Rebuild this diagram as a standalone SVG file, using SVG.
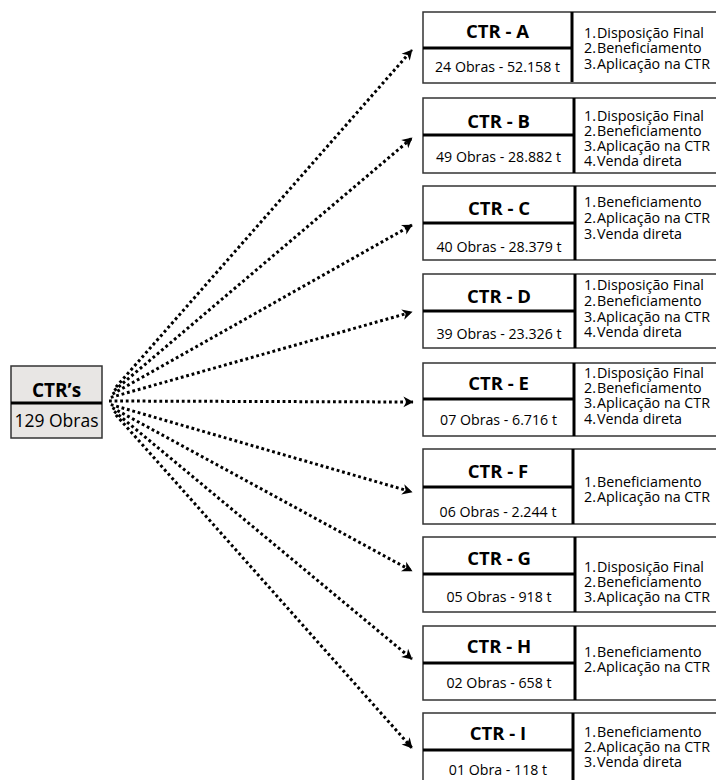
<svg xmlns="http://www.w3.org/2000/svg" width="716" height="780" viewBox="0 0 716 780">
<style>
.box{fill:#fff;stroke:#333;stroke-width:1.5}
.src{fill:#e8e6e4;stroke:#333;stroke-width:1.5}
.div{stroke:#000;stroke-width:3}
.t{font-family:"Open Sans","Liberation Sans",sans-serif;font-weight:bold;font-size:18.5px;text-anchor:middle;fill:#000}
.s{font-family:"Open Sans","Liberation Sans",sans-serif;font-size:14.2px;text-anchor:middle;fill:#000}
.l{font-family:"Open Sans","Liberation Sans",sans-serif;font-size:14.3px;fill:#000}
.c{fill:none;stroke:#000;stroke-width:3;stroke-dasharray:2.8 2.8}
</style>
<defs>
<marker id="ah" markerUnits="userSpaceOnUse" markerWidth="12" markerHeight="12" viewBox="0 0 10 10" refX="9" refY="5" orient="auto">
<path d="M1,0.5 L9.5,5 L1,9.5 L3.5,5 z" fill="#000"/>
</marker>
</defs>
<g id="connectors">
<line class="c" x1="116" y1="387" x2="412" y2="50" marker-end="url(#ah)"/>
<line class="c" x1="114.3" y1="390.5" x2="412" y2="138" marker-end="url(#ah)"/>
<line class="c" x1="112.5" y1="394" x2="412" y2="225" marker-end="url(#ah)"/>
<line class="c" x1="110.8" y1="397.4" x2="412" y2="312" marker-end="url(#ah)"/>
<line class="c" x1="109" y1="401" x2="413" y2="402" marker-end="url(#ah)"/>
<line class="c" x1="110.8" y1="404.6" x2="412" y2="492" marker-end="url(#ah)"/>
<line class="c" x1="112.4" y1="407.8" x2="412" y2="571" marker-end="url(#ah)"/>
<line class="c" x1="114.2" y1="411.3" x2="412" y2="659" marker-end="url(#ah)"/>
<line class="c" x1="115.9" y1="414.9" x2="412" y2="748" marker-end="url(#ah)"/>
</g>
<g id="ctrs">
<rect class="src" x="11" y="366" width="91" height="72"/>
<line class="div" x1="11" y1="403" x2="102" y2="403"/>
<text class="t" x="56.5" y="397" style="font-size:19px">CTR’s</text>
<text class="s" x="56.5" y="427" style="font-size:17.5px">129 Obras</text>
</g>
<g id="ctr-a">
<rect class="box" x="423" y="12" width="300" height="71"/>
<line class="div" x1="423" y1="48" x2="572" y2="48"/>
<line class="div" x1="572" y1="12" x2="572" y2="82"/>
<text class="t" x="497.5" y="38">CTR - A</text>
<text class="s" x="497.5" y="71.7">24 Obras - 52.158 t</text>
<text class="l"><tspan x="584" y="37.7">1.</tspan><tspan x="597" y="37.7">Disposição Final</tspan><tspan x="584" y="53.3">2.</tspan><tspan x="597" y="53.3">Beneficiamento</tspan><tspan x="584" y="69">3.</tspan><tspan x="597" y="69">Aplicação na CTR</tspan></text>
</g>
<g id="ctr-b">
<rect class="box" x="423" y="98" width="300" height="75"/>
<line class="div" x1="423" y1="135" x2="574" y2="135"/>
<line class="div" x1="574" y1="98" x2="574" y2="173"/>
<text class="t" x="498.5" y="128.3">CTR - B</text>
<text class="s" x="498.5" y="161.7">49 Obras - 28.882 t</text>
<text class="l"><tspan x="584" y="120.5">1.</tspan><tspan x="597" y="120.5">Disposição Final</tspan><tspan x="584" y="135.7">2.</tspan><tspan x="597" y="135.7">Beneficiamento</tspan><tspan x="584" y="150.5">3.</tspan><tspan x="597" y="150.5">Aplicação na CTR</tspan><tspan x="584" y="165.7">4.</tspan><tspan x="597" y="165.7">Venda direta</tspan></text>
</g>
<g id="ctr-c">
<rect class="box" x="423" y="186" width="300" height="74"/>
<line class="div" x1="423" y1="223" x2="575" y2="223"/>
<line class="div" x1="575" y1="186" x2="575" y2="260"/>
<text class="t" x="499" y="215">CTR - C</text>
<text class="s" x="499" y="251.7">40 Obras -  28.379 t</text>
<text class="l"><tspan x="584" y="207.3">1.</tspan><tspan x="597" y="207.3">Beneficiamento</tspan><tspan x="584" y="223.3">2.</tspan><tspan x="597" y="223.3">Aplicação na CTR</tspan><tspan x="584" y="239">3.</tspan><tspan x="597" y="239">Venda direta</tspan></text>
</g>
<g id="ctr-d">
<rect class="box" x="423" y="274" width="300" height="74"/>
<line class="div" x1="423" y1="311" x2="575" y2="311"/>
<line class="div" x1="575" y1="274" x2="575" y2="348"/>
<text class="t" x="499" y="303.3">CTR - D</text>
<text class="s" x="499" y="339.3">39 Obras - 23.326 t</text>
<text class="l"><tspan x="584" y="290">1.</tspan><tspan x="597" y="290">Disposição Final</tspan><tspan x="584" y="306">2.</tspan><tspan x="597" y="306">Beneficiamento</tspan><tspan x="584" y="321.7">3.</tspan><tspan x="597" y="321.7">Aplicação na CTR</tspan><tspan x="584" y="336.7">4.</tspan><tspan x="597" y="336.7">Venda direta</tspan></text>
</g>
<g id="ctr-e">
<rect class="box" x="423" y="363" width="300" height="73"/>
<line class="div" x1="423" y1="399" x2="574" y2="399"/>
<line class="div" x1="574" y1="363" x2="574" y2="436"/>
<text class="t" x="498.5" y="390">CTR - E</text>
<text class="s" x="498.5" y="425">07 Obras - 6.716 t</text>
<text class="l"><tspan x="584" y="378.3">1.</tspan><tspan x="597" y="378.3">Disposição Final</tspan><tspan x="584" y="393.3">2.</tspan><tspan x="597" y="393.3">Beneficiamento</tspan><tspan x="584" y="408.3">3.</tspan><tspan x="597" y="408.3">Aplicação na CTR</tspan><tspan x="584" y="424">4.</tspan><tspan x="597" y="424">Venda direta</tspan></text>
</g>
<g id="ctr-f">
<rect class="box" x="423" y="449" width="300" height="75"/>
<line class="div" x1="423" y1="487" x2="573" y2="487"/>
<line class="div" x1="573" y1="449" x2="573" y2="524"/>
<text class="t" x="498" y="478.3">CTR - F</text>
<text class="s" x="498" y="516.7">06 Obras - 2.244 t</text>
<text class="l"><tspan x="584" y="486.7">1.</tspan><tspan x="597" y="486.7">Beneficiamento</tspan><tspan x="584" y="501.7">2.</tspan><tspan x="597" y="501.7">Aplicação na CTR</tspan></text>
</g>
<g id="ctr-g">
<rect class="box" x="423" y="537" width="300" height="75"/>
<line class="div" x1="423" y1="574" x2="575" y2="574"/>
<line class="div" x1="575" y1="537" x2="575" y2="612"/>
<text class="t" x="499" y="565">CTR - G</text>
<text class="s" x="499" y="601.7">05 Obras - 918 t</text>
<text class="l"><tspan x="584" y="571.7">1.</tspan><tspan x="597" y="571.7">Disposição Final</tspan><tspan x="584" y="586.7">2.</tspan><tspan x="597" y="586.7">Beneficiamento</tspan><tspan x="584" y="601.7">3.</tspan><tspan x="597" y="601.7">Aplicação na CTR</tspan></text>
</g>
<g id="ctr-h">
<rect class="box" x="423" y="626" width="300" height="74"/>
<line class="div" x1="423" y1="663" x2="575" y2="663"/>
<line class="div" x1="575" y1="626" x2="575" y2="700"/>
<text class="t" x="499" y="653.3">CTR - H</text>
<text class="s" x="499" y="688.3">02 Obras - 658 t</text>
<text class="l"><tspan x="584" y="656.7">1.</tspan><tspan x="597" y="656.7">Beneficiamento</tspan><tspan x="584" y="671.7">2.</tspan><tspan x="597" y="671.7">Aplicação na CTR</tspan></text>
</g>
<g id="ctr-i">
<rect class="box" x="423" y="713" width="300" height="75"/>
<line class="div" x1="423" y1="750" x2="573" y2="750"/>
<line class="div" x1="573" y1="713" x2="573" y2="788"/>
<text class="t" x="498" y="740">CTR - I</text>
<text class="s" x="498" y="775">01 Obra - 118 t</text>
<text class="l"><tspan x="584" y="736.7">1.</tspan><tspan x="597" y="736.7">Beneficiamento</tspan><tspan x="584" y="751.7">2.</tspan><tspan x="597" y="751.7">Aplicação na CTR</tspan><tspan x="584" y="766.7">3.</tspan><tspan x="597" y="766.7">Venda direta</tspan></text>
</g>
</svg>
